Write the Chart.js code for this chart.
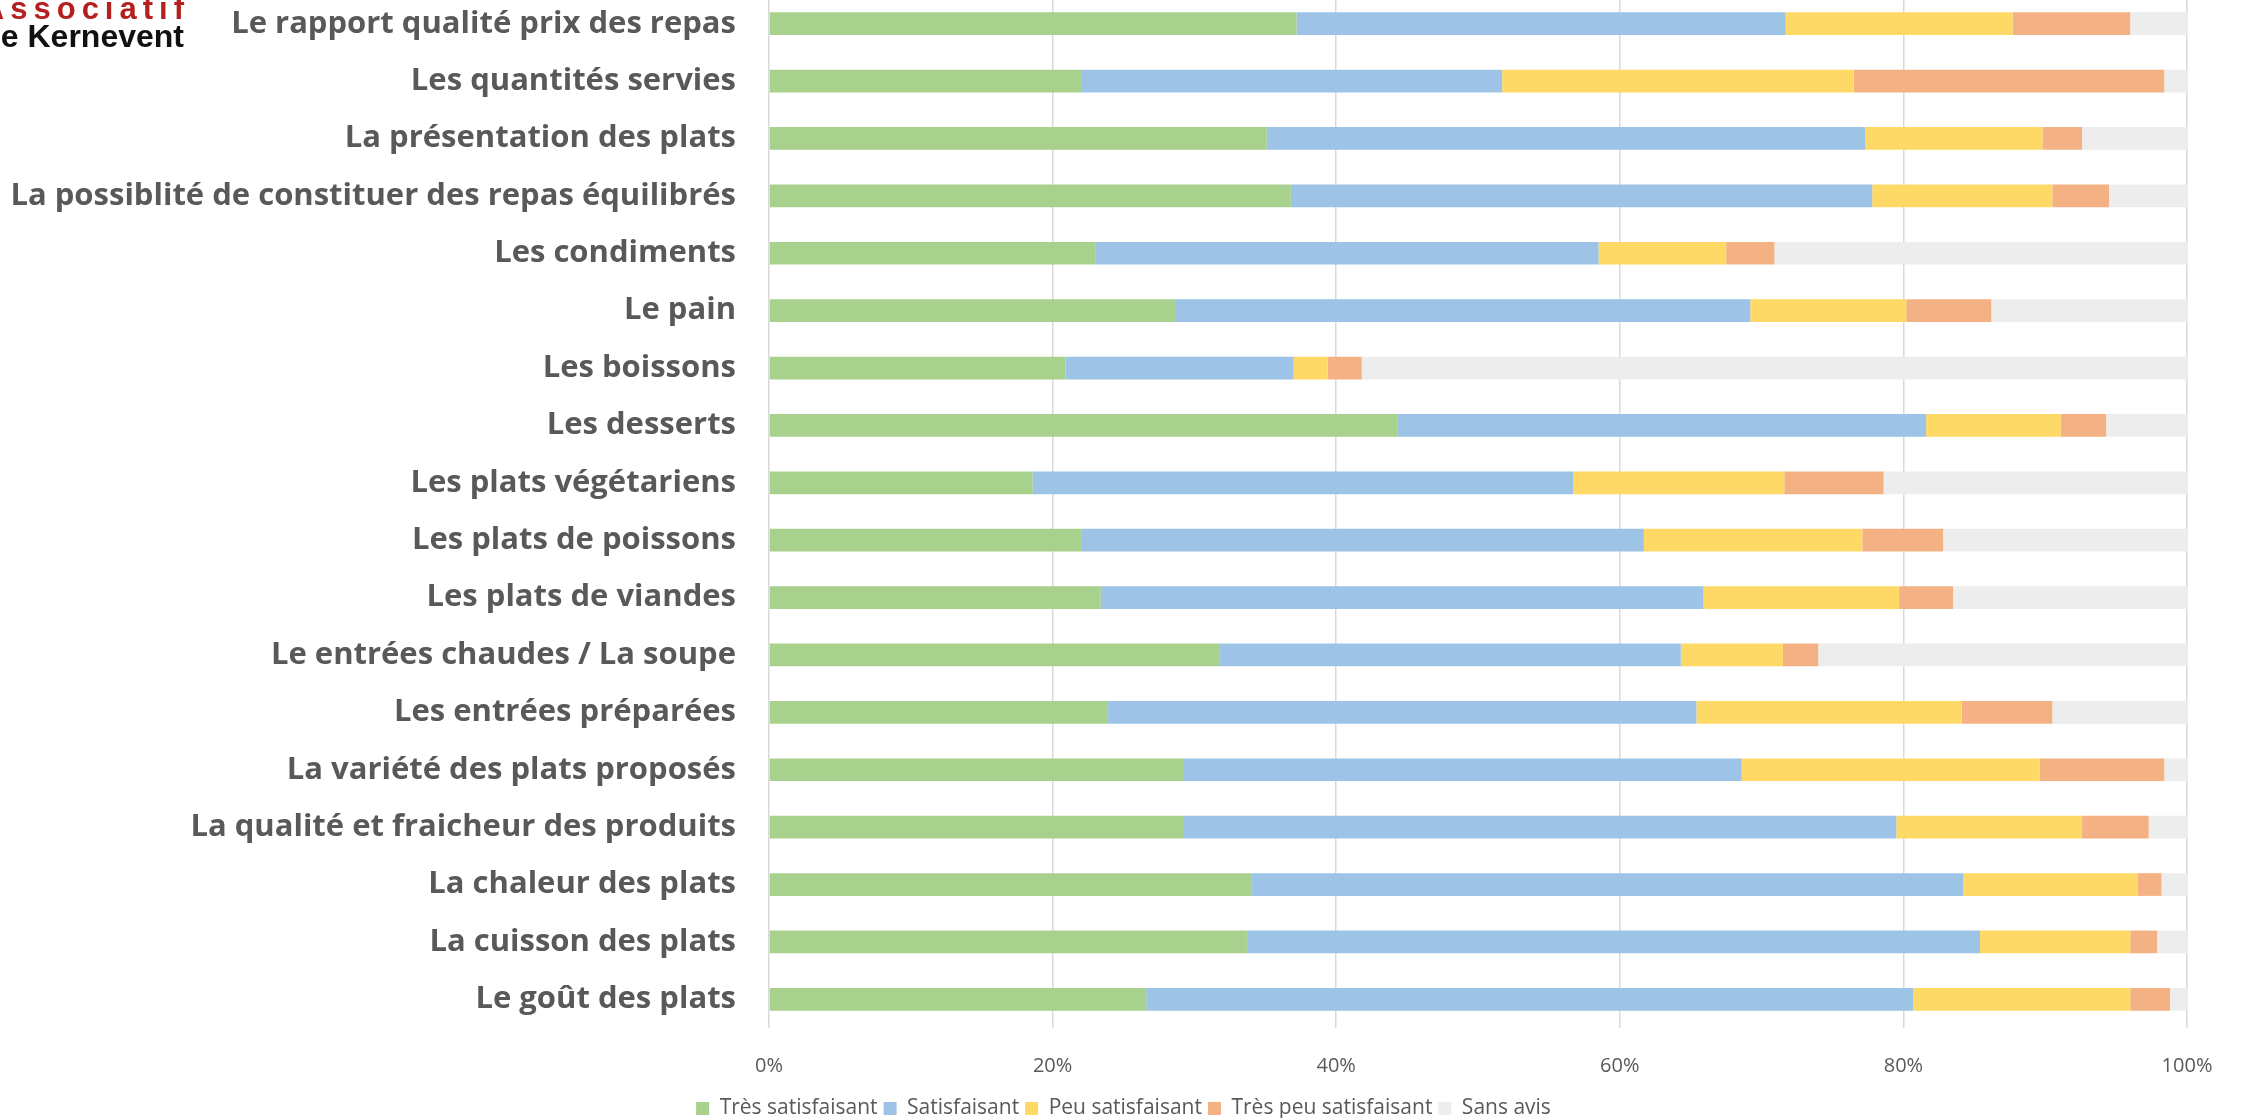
<!DOCTYPE html>
<html>
<head>
<meta charset="utf-8">
<script src="https://cdn.jsdelivr.net/npm/chart.js@4.4.0/dist/chart.umd.min.js"></script>
<style>
  body { margin: 0; background: #fff; overflow: hidden; width: 2246px; height: 1118px; position: relative; }
  #wrap { position: absolute; left: 0; top: -5px; width: 2246px; height: 1134px; }
  .logo { position: absolute; font-family: "Liberation Sans", Arial, sans-serif; font-weight: bold; text-align: right; white-space: nowrap; z-index: 2; }
  #logo1 { color: #b3201f; font-size: 31px; line-height: 31px; letter-spacing: 6px; left: -300px; width: 490px; top: -7px; }
  #logo2 { color: #111; font-size: 32px; line-height: 32px; left: -300px; width: 484px; top: 20px; }
</style>
</head>
<body>
<div class="logo" id="logo1">Associatif</div>
<div class="logo" id="logo2">Le Kernevent</div>
<div id="wrap"><canvas id="chart" width="2246" height="1134"></canvas></div>
<script>
var categories = [
  "Le rapport qualité prix des repas",
  "Les quantités servies",
  "La présentation des plats",
  "La possiblité de constituer des repas équilibrés",
  "Les condiments",
  "Le pain",
  "Les boissons",
  "Les desserts",
  "Les plats végétariens",
  "Les plats de poissons",
  "Les plats de viandes",
  "Le entrées chaudes / La soupe",
  "Les entrées préparées",
  "La variété des plats proposés",
  "La qualité et fraicheur des produits",
  "La chaleur des plats",
  "La cuisson des plats",
  "Le goût des plats"
];

var tresSatisfaisant    = [37.2, 22.0, 35.1, 36.8, 23.0, 28.7, 20.9, 44.3, 18.6, 22.0, 23.4, 31.8, 23.9, 29.2, 29.2, 34.0, 33.7, 26.6];
var satisfaisant        = [34.5, 29.7, 42.2, 41.0, 35.5, 40.5, 16.1, 37.3, 38.1, 39.7, 42.5, 32.5, 41.5, 39.4, 50.3, 50.2, 51.7, 54.1];
var peuSatisfaisant     = [16.0, 24.8, 12.5, 12.7,  9.0, 11.0,  2.4,  9.5, 14.9, 15.4, 13.8,  7.2, 18.7, 21.0, 13.1, 12.3, 10.6, 15.3];
var tresPeuSatisfaisant = [ 8.3, 21.9,  2.8,  4.0,  3.4,  6.0,  2.4,  3.2,  7.0,  5.7,  3.8,  2.5,  6.4,  8.8,  4.7,  1.7,  1.9,  2.8];
var sansAvis            = [ 4.0,  1.6,  7.4,  5.5, 29.1, 13.8, 58.2,  5.7, 21.4, 17.2, 16.5, 26.0,  9.5,  1.6,  2.7,  1.8,  2.1,  1.2];

var xTicks = [0, 20, 40, 60, 80, 100];

var seriesNames  = ["Très satisfaisant", "Satisfaisant", "Peu satisfaisant", "Très peu satisfaisant", "Sans avis"];
var seriesColors = ["#a9d18e", "#9dc3e6", "#ffd966", "#f4b183", "#ededed"];
var seriesData   = [tresSatisfaisant, satisfaisant, peuSatisfaisant, tresPeuSatisfaisant, sansAvis];

var datasets = seriesNames.map(function (name, i) {
  return {
    label: name,
    data: seriesData[i],
    backgroundColor: seriesColors[i],
    borderWidth: 0,
    categoryPercentage: 0.396,
    barPercentage: 1
  };
});

// nudge the legend a little to the right, like the original
var legendShift = {
  id: "legendShift",
  afterLayout: function (chart) {
    chart.legend.left += 30;
    chart.legend.right += 30;
  }
};

var ctx = document.getElementById("chart");

var chart = new Chart(ctx, {
  type: "bar",
  data: { labels: categories, datasets: datasets },
  plugins: [legendShift],
  options: {
    indexAxis: "y",
    responsive: false,
    animation: false,
    layout: { padding: { left: 0, right: 59, top: 0, bottom: 0 } },
    plugins: {
      tooltip: { enabled: false },
      legend: {
        position: "bottom",
        labels: {
          boxWidth: 13,
          boxHeight: 13,
          padding: 6,
          color: "#595959",
          font: { family: "Open Sans", size: 21 }
        }
      }
    },
    scales: {
      x: {
        stacked: true,
        min: 0,
        max: 100,
        afterBuildTicks: function (scale) {
          scale.ticks = xTicks.map(function (v) { return { value: v }; });
        },
        afterFit: function (scale) { scale.height = 64; },
        grid: { color: "#d9d9d9", lineWidth: 1.5, drawTicks: false },
        border: { display: false },
        ticks: {
          padding: 26,
          color: "#595959",
          font: { family: "Open Sans", size: 20 },
          callback: function (v) { return v + "%"; }
        }
      },
      y: {
        stacked: true,
        afterFit: function (scale) {
          scale.width = 769;
          scale.paddingTop = 0;
          scale.paddingBottom = 0;
        },
        grid: { display: false, drawTicks: false },
        border: { display: false },
        ticks: {
          padding: 33,
          color: "#595959",
          font: { family: "Open Sans", size: 31, weight: "bold" }
        }
      }
    }
  }
});
</script>
</body>
</html>
